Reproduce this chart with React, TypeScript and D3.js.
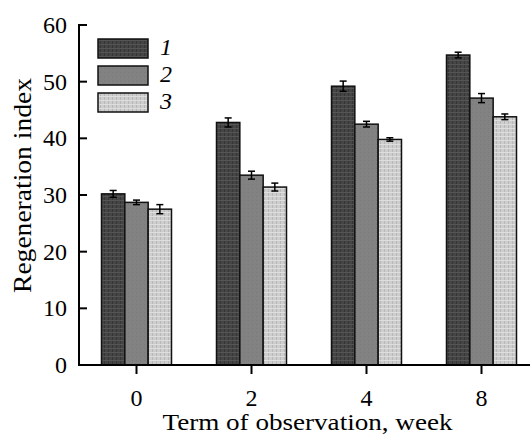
import { useEffect, useRef } from "react";
import * as d3 from "d3";

const weeks = ["0", "2", "4", "8"];
const seriesNames = ["1", "2", "3"];
const group1 = [30.2, 42.8, 49.2, 54.7];
const group2 = [28.7, 33.5, 42.5, 47.1];
const group3 = [27.5, 31.4, 39.8, 43.8];
const err1 = [0.6, 0.8, 0.9, 0.5];
const err2 = [0.4, 0.7, 0.5, 0.8];
const err3 = [0.8, 0.7, 0.3, 0.5];
const yTicks = [0, 10, 20, 30, 40, 50, 60];

const fills = ["url(#pat1)", "url(#pat2)", "url(#pat3)"];

export default function App() {
  const ref = useRef<SVGSVGElement>(null);

  useEffect(() => {
    const svg = d3.select(ref.current);
    svg.selectAll("*").remove();

    const width = 532;
    const margin = { top: 25, left: 79, bottom: 365 };
    const font = "'Liberation Serif', 'Times New Roman', serif";

    // textures
    const defs = svg.append("defs");
    const p1 = defs.append("pattern").attr("id", "pat1").attr("width", 4).attr("height", 4).attr("patternUnits", "userSpaceOnUse");
    p1.append("rect").attr("width", 4).attr("height", 4).attr("fill", "#454545");
    p1.append("rect").attr("width", 1).attr("height", 4).attr("fill", "#363636");
    p1.append("rect").attr("width", 4).attr("height", 1).attr("fill", "#555");
    const p2 = defs.append("pattern").attr("id", "pat2").attr("width", 4).attr("height", 4).attr("patternUnits", "userSpaceOnUse");
    p2.append("rect").attr("width", 4).attr("height", 4).attr("fill", "#828282");
    p2.append("rect").attr("width", 1).attr("height", 1).attr("fill", "#7a7a7a");
    const p3 = defs.append("pattern").attr("id", "pat3").attr("width", 4).attr("height", 4).attr("patternUnits", "userSpaceOnUse");
    p3.append("rect").attr("width", 4).attr("height", 4).attr("fill", "#cdcdcd");
    p3.append("rect").attr("width", 1).attr("height", 4).attr("fill", "#b8b8b8");
    p3.append("rect").attr("width", 4).attr("height", 1).attr("fill", "#dedede");

    const x = d3.scaleBand().domain(weeks).range([margin.left, margin.left + 4 * 115]).padding(0);
    const xs = d3.scaleBand().domain(seriesNames).range([0, 70]);
    const y = d3.scaleLinear().domain([0, 60]).range([margin.bottom, margin.top]);

    const values = [group1, group2, group3];
    const errs = [err1, err2, err3];

    seriesNames.forEach((s, si) => {
      weeks.forEach((w, wi) => {
        const bx = x(w)! + x.bandwidth() / 2 - 35 + xs(s)!;
        const v = values[si][wi];
        svg.append("rect")
          .attr("x", bx)
          .attr("y", y(v))
          .attr("width", xs.bandwidth())
          .attr("height", y(0) - y(v))
          .attr("fill", fills[si])
          .attr("stroke", "#111")
          .attr("stroke-width", 1.5);
      });
    });

    // error bars
    seriesNames.forEach((s, si) => {
      weeks.forEach((w, wi) => {
        const cx = x(w)! + x.bandwidth() / 2 - 35 + xs(s)! + xs.bandwidth() / 2;
        const v = values[si][wi];
        const e = errs[si][wi];
        const g = svg.append("g").attr("stroke", "#000").attr("stroke-width", 1.5);
        g.append("line").attr("x1", cx).attr("x2", cx).attr("y1", y(v + e)).attr("y2", y(v - e));
        g.append("line").attr("x1", cx - 3.5).attr("x2", cx + 3.5).attr("y1", y(v + e)).attr("y2", y(v + e));
        g.append("line").attr("x1", cx - 3.5).attr("x2", cx + 3.5).attr("y1", y(v - e)).attr("y2", y(v - e));
      });
    });

    // y axis
    svg.append("line").attr("x1", margin.left).attr("x2", margin.left)
      .attr("y1", margin.top - 1).attr("y2", margin.bottom + 1)
      .attr("stroke", "#000").attr("stroke-width", 2);
    yTicks.forEach((t) => {
      svg.append("line").attr("x1", margin.left).attr("x2", margin.left + 8)
        .attr("y1", y(t)).attr("y2", y(t)).attr("stroke", "#000").attr("stroke-width", 2);
      svg.append("text").attr("x", 67).attr("y", y(t) + 8)
        .attr("text-anchor", "end").style("font-family", font).style("font-size", "24px")
        .text(t);
    });

    // x axis
    svg.append("line").attr("x1", margin.left - 1).attr("x2", width - 2)
      .attr("y1", margin.bottom).attr("y2", margin.bottom)
      .attr("stroke", "#000").attr("stroke-width", 2);
    weeks.forEach((w) => {
      const cx = x(w)! + x.bandwidth() / 2;
      svg.append("line").attr("x1", cx).attr("x2", cx)
        .attr("y1", margin.bottom).attr("y2", margin.bottom + 9)
        .attr("stroke", "#000").attr("stroke-width", 2);
      svg.append("text").attr("x", cx).attr("y", 406)
        .attr("text-anchor", "middle").style("font-family", font).style("font-size", "24px")
        .text(w);
    });

    svg.append("text").attr("x", 162.5).attr("y", 430)
      .attr("textLength", 290).attr("lengthAdjust", "spacingAndGlyphs")
      .style("font-family", font).style("font-size", "24px")
      .text("Term of observation, week");

    svg.append("text")
      .attr("transform", `translate(31,293) rotate(-90)`)
      .attr("textLength", 215).attr("lengthAdjust", "spacingAndGlyphs")
      .style("font-family", font).style("font-size", "25px")
      .text("Regeneration index");

    // legend
    seriesNames.forEach((s, i) => {
      const ly = 39 + i * 27;
      svg.append("rect").attr("x", 98).attr("y", ly).attr("width", 50).attr("height", 19)
        .attr("fill", fills[i]).attr("stroke", "#111").attr("stroke-width", 1.5);
      svg.append("text").attr("x", 160).attr("y", ly + 16)
        .style("font-family", font).style("font-size", "24px").style("font-style", "italic")
        .text(s);
    });
  }, []);

  return <svg ref={ref} width={532} height={437} style={{ display: "block", position: "absolute", left: 0, top: 0 }} />;
}
